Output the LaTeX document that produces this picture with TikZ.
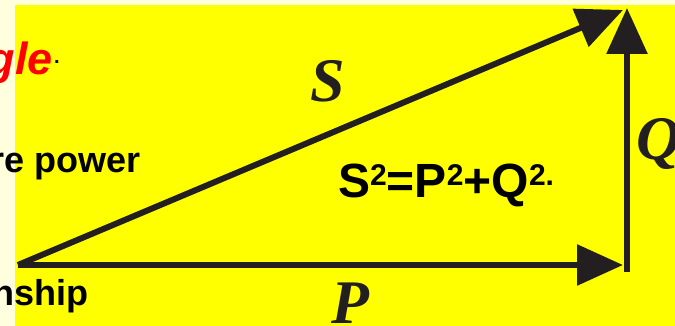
\documentclass[tikz,border=0pt]{standalone}
\usepackage{fontspec}
\setmainfont{Liberation Serif}
\newfontfamily\arialfont{Liberation Sans}
\usepackage{tikz}
\usetikzlibrary{arrows.meta}
\definecolor{pagecream}{HTML}{FFFFDD}
\definecolor{slideyellow}{HTML}{FFFF00}
\definecolor{vecdark}{HTML}{231F20}
\definecolor{titlered}{HTML}{FF0000}
\newcommand{\supsq}[1]{\raisebox{12pt}{\fontsize{30}{30}\selectfont #1}}

\begin{document}
\begin{tikzpicture}[x=1pt, y=-1pt,
  vec/.style={-{Triangle[length=46pt, width=40pt]}, line width=6pt, draw=vecdark},
  veclabel/.style={inner sep=0pt, text=vecdark, font=\fontsize{62}{62}\selectfont\bfseries\itshape},
  sidetext/.style={inner sep=0pt, anchor=base east, font=\arialfont\fontsize{36}{36}\selectfont\bfseries}
]
  \clip (0,0) rectangle (675,326);
  \fill[pagecream] (0,0) rectangle (675,326);
  \fill[slideyellow] (15,5) rectangle (675,326);

  % text cut off at the left edge
  \node[sidetext, text=titlered, font=\arialfont\fontsize{45}{45}\selectfont\bfseries\itshape] (title) at (53,75) {gle};
  \node[inner sep=0pt, anchor=base west, font=\arialfont\fontsize{20}{20}\selectfont\bfseries] (titledot) at (54,64) {.};
  \node[sidetext] (reactive) at (141,172) {re power};
  \node[sidetext] (relation) at (89,305) {nship};

  % power triangle
  \coordinate (origin) at (18,265);
  \coordinate (ptip) at (623,265);
  \coordinate (qfoot) at (627,272);
  \coordinate (qtip) at (627,8);
  \coordinate (stip) at (623,10);
  \draw[vec] (origin) -- (ptip);
  \draw[vec] (qfoot) -- (qtip);
  \draw[vec] (origin) -- (stip);

  \node[veclabel, anchor=base] (slabel) at (328,102) {S};
  \node[veclabel, anchor=base] (plabel) at (350,323) {P};
  \node[veclabel, anchor=base west] (qlabel) at (636,160) {Q};

  \node[inner sep=0pt, anchor=base west, font=\arialfont\fontsize{48}{48}\selectfont\bfseries] (formula) at (338,197)
    {S\supsq{2}=P\supsq{2}+Q\supsq{2.}};
\end{tikzpicture}
\end{document}
